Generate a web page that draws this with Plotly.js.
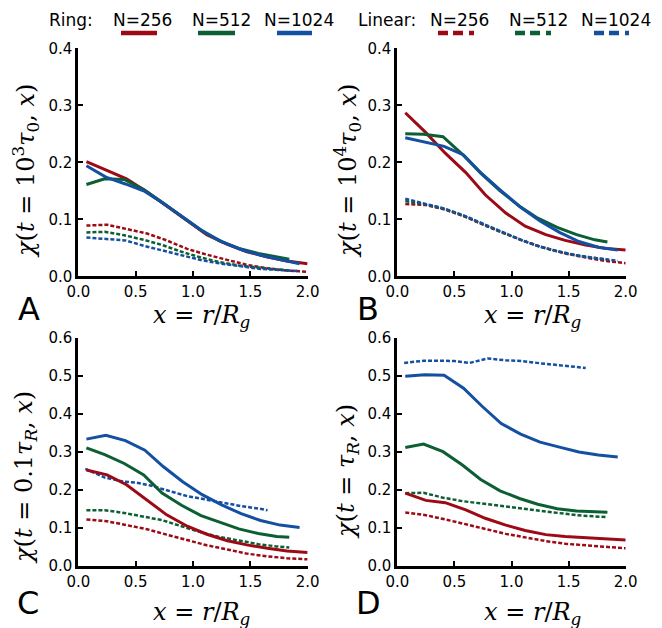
<!DOCTYPE html>
<html>
<head>
<meta charset="utf-8">
<script src="https://cdn.plot.ly/plotly-3.0.1.min.js"></script>
<style>html,body{margin:0;padding:0;background:#fff;}#chart{width:662px;height:628px;}</style>
</head>
<body>
<div id="chart"></div>
<script>
// ---- x grids (x = r/Rg) ----
var x256 = [0.07, 0.25, 0.42, 0.6, 0.77, 0.95, 1.12, 1.3, 1.47, 1.65, 1.82, 2.0];
var x512 = [0.07, 0.23, 0.4, 0.57, 0.73, 0.9, 1.07, 1.23, 1.4, 1.57, 1.73, 1.84];
var x1024 = [0.07, 0.24, 0.41, 0.58, 0.74, 0.91, 1.08, 1.25, 1.42, 1.59, 1.76, 1.93];
var xLin1024Late = [0.06, 0.23, 0.4, 0.5, 0.63, 0.79, 0.95, 1.1, 1.26, 1.42, 1.58, 1.65];

// ---- Panel A: t = 10^3 tau0 ----
var A_ring256 = [0.201, 0.186, 0.171, 0.148, 0.124, 0.097, 0.073, 0.056, 0.043, 0.034, 0.027, 0.022];
var A_ring512 = [0.161, 0.171, 0.170, 0.152, 0.130, 0.105, 0.081, 0.062, 0.049, 0.040, 0.034, 0.030];
var A_ring1024 = [0.194, 0.174, 0.162, 0.149, 0.128, 0.104, 0.080, 0.061, 0.047, 0.037, 0.029, 0.022];
var A_lin256 = [0.089, 0.0905, 0.083, 0.075, 0.063, 0.048, 0.038, 0.029, 0.020, 0.014, 0.010, 0.008];
var A_lin512 = [0.077, 0.078, 0.072, 0.064, 0.055, 0.043, 0.033, 0.025, 0.019, 0.015, 0.012, 0.010];
var A_lin1024 = [0.068, 0.066, 0.063, 0.053, 0.045, 0.036, 0.028, 0.022, 0.017, 0.013, 0.011, 0.009];

// ---- Panel B: t = 10^4 tau0 ----
var B_ring256 = [0.287, 0.252, 0.216, 0.182, 0.143, 0.111, 0.088, 0.073, 0.063, 0.055, 0.049, 0.046];
var B_ring512 = [0.250, 0.249, 0.245, 0.214, 0.181, 0.150, 0.123, 0.102, 0.086, 0.073, 0.064, 0.060];
var B_ring1024 = [0.243, 0.236, 0.228, 0.213, 0.180, 0.150, 0.121, 0.097, 0.077, 0.061, 0.051, 0.046];
var B_lin256 = [0.127, 0.125, 0.117, 0.104, 0.089, 0.074, 0.061, 0.049, 0.040, 0.033, 0.027, 0.023];
var B_lin512 = [0.132, 0.127, 0.119, 0.107, 0.093, 0.078, 0.065, 0.053, 0.044, 0.037, 0.032, 0.029];
var B_lin1024 = [0.136, 0.128, 0.119, 0.107, 0.093, 0.078, 0.064, 0.052, 0.043, 0.036, 0.031, 0.027];

// ---- Panel C: t = 0.1 tauR ----
var C_ring256 = [0.253, 0.240, 0.214, 0.173, 0.135, 0.105, 0.084, 0.067, 0.056, 0.047, 0.040, 0.036];
var C_ring512 = [0.311, 0.293, 0.270, 0.240, 0.192, 0.160, 0.133, 0.116, 0.098, 0.086, 0.078, 0.076];
var C_ring1024 = [0.334, 0.344, 0.330, 0.305, 0.262, 0.222, 0.188, 0.161, 0.138, 0.120, 0.108, 0.102];
var C_lin256 = [0.123, 0.118, 0.108, 0.097, 0.083, 0.068, 0.055, 0.044, 0.033, 0.026, 0.021, 0.018];
var C_lin512 = [0.147, 0.147, 0.140, 0.131, 0.121, 0.105, 0.089, 0.077, 0.067, 0.058, 0.052, 0.049];
var C_lin1024 = [0.256, 0.233, 0.222, 0.220, 0.212, 0.197, 0.184, 0.176, 0.167, 0.158, 0.151, 0.147];

// ---- Panel D: t = tauR ----
var D_ring256 = [0.192, 0.173, 0.167, 0.148, 0.126, 0.108, 0.094, 0.083, 0.078, 0.075, 0.072, 0.069];
var D_ring512 = [0.312, 0.321, 0.301, 0.266, 0.228, 0.198, 0.178, 0.163, 0.151, 0.145, 0.143, 0.142];
var D_ring1024 = [0.499, 0.503, 0.502, 0.468, 0.421, 0.375, 0.347, 0.326, 0.313, 0.300, 0.292, 0.287];
var D_lin256 = [0.141, 0.134, 0.123, 0.111, 0.098, 0.085, 0.075, 0.066, 0.059, 0.055, 0.051, 0.047];
var D_lin512 = [0.192, 0.193, 0.180, 0.171, 0.165, 0.159, 0.153, 0.146, 0.140, 0.134, 0.131, 0.129];
var D_lin1024 = [0.534, 0.540, 0.540, 0.539, 0.534, 0.546, 0.541, 0.539, 0.533, 0.528, 0.524, 0.521];

var xTicks = [0, 0.5, 1.0, 1.5, 2.0];
var yTicksTop = [0, 0.1, 0.2, 0.3, 0.4];
var yTicksBottom = [0, 0.1, 0.2, 0.3, 0.4, 0.5, 0.6];
var legendLabels = ['N=256', 'N=512', 'N=1024'];
var panelLetters = ['A', 'B', 'C', 'D'];
var yTitles = [
  '<i>χ</i>(<i>t</i> = 10<sup>3</sup><i>τ</i><sub>0</sub>, <i>x</i>)',
  '<i>χ</i>(<i>t</i> = 10<sup>4</sup><i>τ</i><sub>0</sub>, <i>x</i>)',
  '<i>χ</i>(<i>t</i> = 0.1<i>τ</i><sub><i>R</i></sub>, <i>x</i>)',
  '<i>χ</i>(<i>t</i> = <i>τ</i><sub><i>R</i></sub>, <i>x</i>)'
];
var xTitle = '<i>x</i> = <i>r</i>/<i>R</i><sub><i>g</i></sub>';

var colors = ['#9c0a16', '#0c5f33', '#1450a2'];

var W = 662, H = 628;
function px(v) { return v / W; }
function py(v) { return 1 - v / H; }

var panels = [
  {ring: [A_ring256, A_ring512, A_ring1024], lin: [A_lin256, A_lin512, A_lin1024], linX: [x256, x512, x1024]},
  {ring: [B_ring256, B_ring512, B_ring1024], lin: [B_lin256, B_lin512, B_lin1024], linX: [x256, x512, x1024]},
  {ring: [C_ring256, C_ring512, C_ring1024], lin: [C_lin256, C_lin512, C_lin1024], linX: [x256, x512, xLin1024Late]},
  {ring: [D_ring256, D_ring512, D_ring1024], lin: [D_lin256, D_lin512, D_lin1024], linX: [x256, x512, xLin1024Late]}
];
var ringX = [x256, x512, x1024];

var traces = [];
panels.forEach(function (p, i) {
  var xa = i === 0 ? 'x' : 'x' + (i + 1);
  var ya = i === 0 ? 'y' : 'y' + (i + 1);
  for (var k = 0; k < 3; k++) {
    traces.push({x: p.linX[k], y: p.lin[k], xaxis: xa, yaxis: ya, mode: 'lines',
      line: {color: colors[k], width: 2.5, dash: '4px,2px'}, showlegend: false, hoverinfo: 'skip'});
  }
  for (var k2 = 0; k2 < 3; k2++) {
    traces.push({x: ringX[k2], y: p.ring[k2], xaxis: xa, yaxis: ya, mode: 'lines',
      line: {color: colors[k2], width: 3}, showlegend: false, hoverinfo: 'skip'});
  }
});

var tickFont = {family: 'DejaVu Sans', size: 15, color: '#000'};
function xAxis(dom, anchor) {
  return {domain: dom, anchor: anchor, range: [0, 2], tickvals: xTicks, tickformat: '.1f',
    showline: true, linewidth: 3, linecolor: '#000', ticks: 'inside', ticklen: 5, tickwidth: 2,
    tickcolor: '#000', showgrid: false, zeroline: false, tickfont: tickFont, fixedrange: true};
}
function yAxis(dom, anchor, top, vals) {
  return {domain: dom, anchor: anchor, range: [0, top], tickvals: vals, tickformat: '.1f',
    showline: true, linewidth: 3, linecolor: '#000', ticks: 'inside', ticklen: 5, tickwidth: 2,
    tickcolor: '#000', showgrid: false, zeroline: false, tickfont: tickFont, fixedrange: true};
}

var xL = [px(78.4), px(307.6)], xR = [px(397.3), px(625.7)];
var yT = [py(276.3), py(48.3)], yB = [py(566.2), py(337.9)];

var annotations = [];
var serif = {family: 'DejaVu Serif', size: 24, color: '#000'};
var yTitlePos = [[25, 171], [347, 171], [25, 478], [347, 472]];
var xTitlePos = [[202, 316], [533, 316], [202, 613], [533, 613]];
var letterPos = [[29, 309], [368, 309], [28, 603], [368, 603]];
for (var i = 0; i < 4; i++) {
  annotations.push({xref: 'paper', yref: 'paper', x: px(yTitlePos[i][0]), y: py(yTitlePos[i][1]),
    text: yTitles[i], textangle: -90, showarrow: false, xanchor: 'center', yanchor: 'middle', font: serif});
  annotations.push({xref: 'paper', yref: 'paper', x: px(xTitlePos[i][0]), y: py(xTitlePos[i][1]),
    text: xTitle, showarrow: false, xanchor: 'center', yanchor: 'middle', font: serif});
  annotations.push({xref: 'paper', yref: 'paper', x: px(letterPos[i][0]), y: py(letterPos[i][1]),
    text: panelLetters[i], showarrow: false, xanchor: 'center', yanchor: 'middle',
    font: {family: 'DejaVu Sans', size: 32, color: '#000'}});
}

// legend header (drawn as text + sample strokes)
var legFont = {family: 'DejaVu Sans', size: 17, color: '#000'};
var legTextY = 20, legLineY = 33;
function legText(x, t) {
  annotations.push({xref: 'paper', yref: 'paper', x: px(x), y: py(legTextY), text: t, showarrow: false,
    xanchor: 'center', yanchor: 'middle', font: legFont});
}
legText(71, 'Ring:');
legText(386.5, 'Linear:');
var ringTextX = [142, 221, 298.5];
var linTextX = [459.5, 538, 615.5];
var ringLegX = [[121, 157], [198, 235], [277, 312]];
var linLegX = [[438, 474], [515, 552], [594, 629]];
var shapes = [];
for (var k = 0; k < 3; k++) {
  legText(ringTextX[k], legendLabels[k]);
  legText(linTextX[k], legendLabels[k]);
  shapes.push({type: 'line', xref: 'paper', yref: 'paper', x0: px(ringLegX[k][0]), x1: px(ringLegX[k][1]),
    y0: py(legLineY), y1: py(legLineY), line: {color: colors[k], width: 4.5}});
  shapes.push({type: 'line', xref: 'paper', yref: 'paper', x0: px(linLegX[k][0]), x1: px(linLegX[k][1]),
    y0: py(legLineY), y1: py(legLineY), line: {color: colors[k], width: 4.5, dash: '10px,5px,10px,6px,5px,20px'}});
}

var layout = {
  width: W, height: H, autosize: false,
  margin: {l: 0, r: 0, t: 0, b: 0},
  paper_bgcolor: '#fff', plot_bgcolor: '#fff',
  showlegend: false,
  xaxis: xAxis(xL, 'y'), yaxis: yAxis(yT, 'x', 0.4, yTicksTop),
  xaxis2: xAxis(xR, 'y2'), yaxis2: yAxis(yT, 'x2', 0.4, yTicksTop),
  xaxis3: xAxis(xL, 'y3'), yaxis3: yAxis(yB, 'x3', 0.6, yTicksBottom),
  xaxis4: xAxis(xR, 'y4'), yaxis4: yAxis(yB, 'x4', 0.6, yTicksBottom),
  annotations: annotations,
  shapes: shapes
};

Plotly.newPlot('chart', traces, layout, {displayModeBar: false, staticPlot: true});
</script>
</body>
</html>
